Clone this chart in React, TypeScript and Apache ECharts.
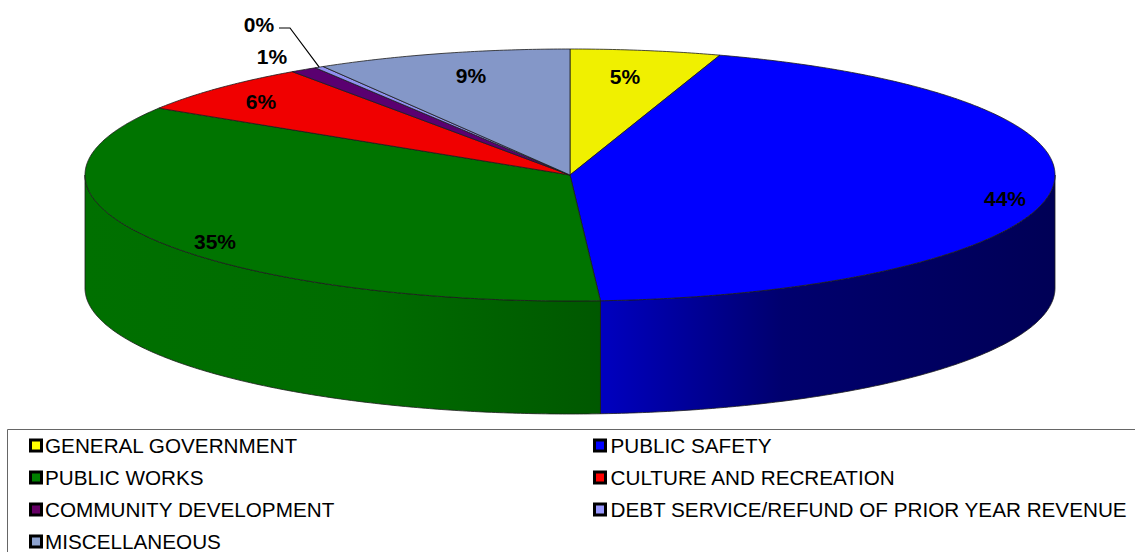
import React, { useEffect, useRef } from "react";
import * as echarts from "echarts";

// Share of total expenditure per function, in percent
const categories = [
  "GENERAL GOVERNMENT",
  "PUBLIC SAFETY",
  "PUBLIC WORKS",
  "CULTURE AND RECREATION",
  "COMMUNITY DEVELOPMENT",
  "DEBT SERVICE/REFUND OF PRIOR YEAR REVENUE",
  "MISCELLANEOUS",
];
const shares = [5.0, 44.0, 34.9, 6.4, 0.9, 0.3, 8.5];

const topColors = ["#f0f000", "#0000ff", "#007400", "#f00000", "#5a0070", "#9090f0", "#8497c8"];
const keyColors = ["#ffff00", "#0000ff", "#008000", "#ff0000", "#660066", "#9999ff", "#8ea3d0"];

const leftColumn = [categories[0], categories[2], categories[4], categories[6]];
const rightColumn = [categories[1], categories[3], categories[5]];

// Disc geometry
const CX = 570;
const CY = 175;
const RX = 485;
const RY = 126;
const DEPTH = 113;

// Label centres around the disc
const labelSpots: [number, number][] = [
  [625, 76],
  [1005, 198],
  [215, 241],
  [261, 101],
  [272, 56],
  [259, 24],
  [471, 75],
];

const rad = (deg: number) => (deg * Math.PI) / 180;
const rimPoint = (deg: number, dy = 0): [number, number] => [
  CX + RX * Math.sin(rad(deg)),
  CY - RY * Math.cos(rad(deg)) + dy,
];

function arc(from: number, to: number, dy = 0) {
  const pts: [number, number][] = [];
  const steps = Math.max(2, Math.ceil((to - from) * 2));
  for (let i = 0; i <= steps; i++) pts.push(rimPoint(from + ((to - from) * i) / steps, dy));
  return pts;
}

// The wall of each front-facing slice is shaded horizontally across its own span
function wallFill(index: number, x0: number, x1: number) {
  const stops =
    index === 1
      ? [
          { offset: 0, color: "#0000c0" },
          { offset: 0.4, color: "#00006e" },
          { offset: 1, color: "#000056" },
        ]
      : [
          { offset: 0, color: "#007000" },
          { offset: 0.55, color: "#006c00" },
          { offset: 1, color: "#005800" },
        ];
  return new echarts.graphic.LinearGradient(x0, 0, x1, 0, stops, true);
}

function renderSlice(index: number) {
  return (_params: any, api: any) => {
    const startPct = api.value(0) as number;
    const value = api.value(1) as number;
    const a0 = (startPct / 100) * 360;
    const a1 = ((startPct + value) / 100) * 360;
    const children: any[] = [];
    const edge = { stroke: "#1c1c1c", lineWidth: 0.8, lineJoin: "round" };

    const w0 = Math.max(a0, 90);
    const w1 = Math.min(a1, 270);
    if (w1 > w0) {
      const upper = arc(w0, w1);
      const lower = arc(w0, w1, DEPTH).reverse();
      const xs = upper.map((p) => p[0]);
      children.push({
        type: "polygon",
        shape: { points: [...upper, ...lower] },
        style: { fill: wallFill(index, Math.min(...xs), Math.max(...xs)), ...edge },
      });
    }

    children.push({
      type: "polygon",
      shape: { points: [[CX, CY], ...arc(a0, a1)] },
      style: { fill: topColors[index], ...edge },
    });

    const [lx, ly] = labelSpots[index];
    children.push({
      type: "text",
      x: lx,
      y: ly,
      z2: 10,
      style: {
        text: `${Math.round(value)}%`,
        fill: "#000",
        font: "bold 21px 'Liberation Sans', Arial, sans-serif",
        align: "center",
        verticalAlign: "middle",
      },
    });

    // Small slice whose label sits away from it gets a leader line
    if (Math.round(value) === 0) {
      const tip = rimPoint((a0 + a1) / 2);
      children.push({
        type: "polyline",
        z2: 10,
        shape: { points: [[lx + 20, ly + 4], [lx + 31, ly + 4], tip] },
        style: { fill: "none", stroke: "#000", lineWidth: 1.2 },
      });
    }
    return { type: "group", children };
  };
}

function buildOption() {
  let running = 0;
  const series = categories.map((name, i) => {
    const row = [running, shares[i]];
    running += shares[i];
    return {
      type: "custom",
      name,
      coordinateSystem: "none",
      silent: true,
      itemStyle: { color: keyColors[i] },
      data: [row],
      renderItem: renderSlice(i),
    };
  });

  const legendBase = {
    orient: "vertical",
    top: 435,
    height: 160,
    padding: 0,
    itemWidth: 11,
    itemHeight: 11,
    itemGap: 11,
    icon: "rect",
    selectedMode: false,
    itemStyle: { borderColor: "#000", borderWidth: 3 },
  };
  const legendText = (leftPad: number) => ({
    color: "#000",
    fontSize: 20.7,
    fontFamily: "'Liberation Sans', Arial, sans-serif",
    padding: [0, 0, 0, leftPad],
  });

  return {
    animation: false,
    backgroundColor: "#fff",
    legend: [
      { ...legendBase, left: 29, data: leftColumn, textStyle: legendText(-1.5) },
      { ...legendBase, left: 593, data: rightColumn, textStyle: legendText(0) },
    ],
    graphic: [
      {
        type: "polyline",
        shape: { points: [[7.5, 552], [7.5, 429.5], [1135, 429.5]] },
        style: { fill: "none", stroke: "#666", lineWidth: 1 },
      },
    ],
    series,
  };
}

export default function App() {
  const ref = useRef<HTMLDivElement>(null);
  useEffect(() => {
    document.body.style.margin = "0";
    const chart = echarts.init(ref.current!, undefined, { renderer: "svg" });
    chart.setOption(buildOption() as any);
    return () => chart.dispose();
  }, []);
  return <div ref={ref} style={{ width: 1135, height: 552 }} />;
}
